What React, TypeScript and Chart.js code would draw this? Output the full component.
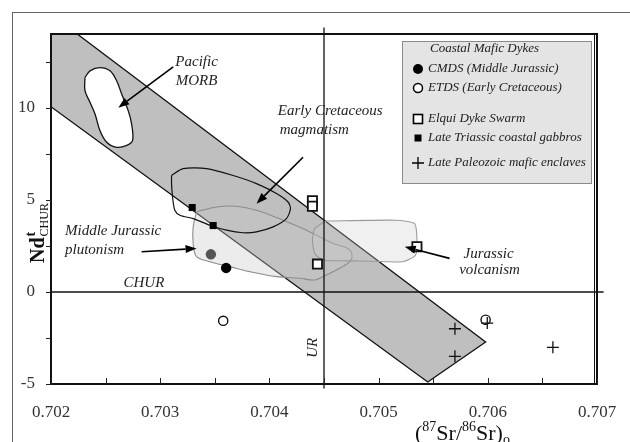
import React, { useEffect, useRef } from 'react';
import { Chart, registerables } from 'chart.js';

Chart.register(...registerables);

const X_MIN = 0.702;
const X_MAX = 0.707;
const Y_MIN = -5;
const Y_MAX = 14;
const xTickLabels = ['0.702', '0.703', '0.704', '0.705', '0.706', '0.707'];
const yTickLabels = ['-5', '0', '5', '10'];

// Polygons, [x, y] pairs in data units
const mantleArray = [[0.702, 14], [0.70224, 14], [0.70598, -2.72], [0.70545, -4.89], [0.702, 10.05], [0.702, 14]];
const pacificMorb = [
  [0.702311, 11.64], [0.702357, 12.0], [0.702448, 12.18], [0.70254, 12.0], [0.702601, 11.46],
  [0.702647, 10.74], [0.702707, 9.84], [0.702738, 9.12], [0.702747, 8.22], [0.702693, 7.95],
  [0.702601, 7.85], [0.70251, 8.12], [0.702448, 8.76], [0.702403, 9.66], [0.702357, 10.29],
  [0.702311, 10.92], [0.702311, 11.64],
];
const earlyCretaceous = [
  [0.703104, 6.32], [0.70321, 6.69], [0.703425, 6.69], [0.703668, 6.32], [0.703882, 5.88],
  [0.704065, 5.34], [0.704171, 4.88], [0.704193, 4.52], [0.704156, 3.98], [0.704034, 3.53],
  [0.703882, 3.26], [0.703759, 3.21], [0.703607, 3.35], [0.703455, 3.62], [0.703302, 3.98],
  [0.70318, 4.16], [0.703134, 4.43], [0.703113, 5.15], [0.703104, 5.88], [0.703104, 6.32],
];
const middleJurassicPlutonism = [
  [0.703333, 4.34], [0.703516, 4.61], [0.703699, 4.65], [0.703882, 4.43], [0.704125, 3.89],
  [0.704339, 3.35], [0.704583, 2.63], [0.70472, 2.36], [0.704757, 2.0], [0.704736, 1.64],
  [0.704644, 1.28], [0.704522, 0.92], [0.704415, 0.65], [0.704278, 0.74], [0.704065, 0.83],
  [0.703821, 1.1], [0.703638, 1.37], [0.703455, 1.64], [0.703333, 1.91], [0.703302, 2.63],
  [0.703302, 3.53], [0.703333, 4.34],
];
const jurassicVolcanism = [
  [0.704516, 3.85], [0.705163, 3.89], [0.70533, 3.71], [0.705351, 2.9], [0.705339, 2.0],
  [0.705223, 1.64], [0.704857, 1.68], [0.704491, 1.73], [0.704415, 2.09], [0.704394, 2.81],
  [0.704415, 3.44], [0.704516, 3.85],
];
const urLine = [[0.7045, 14.35], [0.7045, -5.25]];
const churLine = [[0.702, 0], [0.70706, 0]];

// Samples
const cmdsBlack = [[0.703604, 1.3]];
const cmdsGray = [[0.703464, 2.04]];
const etds = [[0.703577, -1.57], [0.70598, -1.51]];
const elquiDykes = [[0.704394, 4.95], [0.704394, 4.65], [0.70444, 1.51], [0.705351, 2.45]];
const lateTriassicGabbros = [[0.703293, 4.58], [0.703485, 3.6]];
const latePaleozoicEnclaves = [[0.705699, -2.0], [0.705699, -3.5], [0.705995, -1.69], [0.706596, -3.01]];

// Arrows: [tailX, tailY, headX, headY]
const arrows = [
  [0.703119, 12.22, 0.702616, 10.0],
  [0.704308, 7.31, 0.703882, 4.79],
  [0.70283, 2.18, 0.703333, 2.36],
  [0.70565, 1.82, 0.705239, 2.45],
];

// Annotations: text, x, y, align
const annotationTexts = ['Pacific', 'MORB', 'Early Cretaceous', 'magmatism', 'Middle Jurassic', 'plutonism', 'CHUR', 'Jurassic', 'volcanism'];
const annotationX = [0.703333, 0.703333, 0.704077, 0.704095, 0.702128, 0.702128, 0.702851, 0.706007, 0.706016];
const annotationY = [12.49, 11.46, 9.84, 8.81, 3.3, 2.27, 0.49, 2.05, 1.19];
const annotationAlign = ['center', 'center', 'left', 'left', 'left', 'left', 'center', 'center', 'center'];
const urLabel = { text: 'UR', x: 0.704397, y: -3.03 };

const legendTitle = 'Coastal Mafic Dykes';
const legendLabels = ['CMDS (Middle Jurassic)', 'ETDS (Early Cretaceous)', 'Elqui Dyke Swarm', 'Late Triassic coastal gabbros', 'Late Paleozoic mafic enclaves'];
const legendMarkers = ['filledCircle', 'openCircle', 'openSquare', 'filledSquare', 'cross'];

const pts = (arr: number[][]) => arr.map(([x, y]) => ({ x, y }));
const SERIF = '"Liberation Serif", "Times New Roman", serif';

function drawMarker(ctx: CanvasRenderingContext2D, kind: string, x: number, y: number) {
  ctx.save();
  ctx.strokeStyle = '#000';
  ctx.fillStyle = '#000';
  if (kind === 'filledCircle') {
    ctx.beginPath(); ctx.arc(x, y, 5, 0, Math.PI * 2); ctx.fill();
  } else if (kind === 'openCircle') {
    ctx.lineWidth = 1.5; ctx.fillStyle = '#fff';
    ctx.beginPath(); ctx.arc(x, y, 4.5, 0, Math.PI * 2); ctx.fill(); ctx.stroke();
  } else if (kind === 'openSquare') {
    ctx.lineWidth = 1.6; ctx.fillStyle = '#fff';
    ctx.fillRect(x - 4.5, y - 4.5, 9, 9); ctx.strokeRect(x - 4.5, y - 4.5, 9, 9);
  } else if (kind === 'filledSquare') {
    ctx.fillRect(x - 3.5, y - 3.5, 7, 7);
  } else if (kind === 'cross') {
    ctx.lineWidth = 1.3;
    ctx.beginPath(); ctx.moveTo(x - 6, y); ctx.lineTo(x + 6, y); ctx.moveTo(x, y - 6); ctx.lineTo(x, y + 6); ctx.stroke();
  }
  ctx.restore();
}

function drawRich(ctx: CanvasRenderingContext2D, parts: { t: string; f: string; dy: number }[], x: number, y: number) {
  let cx = x;
  for (const p of parts) {
    ctx.font = p.f;
    ctx.fillText(p.t, cx, y + p.dy);
    cx += ctx.measureText(p.t).width;
  }
}

const overlayPlugin = {
  id: 'overlay',
  afterDraw(chart: any) {
    const { ctx, chartArea: a, scales } = chart;
    const xs = scales.x;
    const ys = scales.y;
    const px = (v: number) => xs.getPixelForValue(v);
    const py = (v: number) => ys.getPixelForValue(v);
    ctx.save();

    // outer figure frame
    ctx.strokeStyle = '#666';
    ctx.lineWidth = 1;
    ctx.strokeRect(12.5, 12.5, chart.width, chart.height);

    // plot frame
    ctx.strokeStyle = '#111';
    ctx.lineWidth = 2;
    ctx.strokeRect(a.left, a.top, a.right - a.left, a.bottom - a.top);
    ctx.lineWidth = 1;
    ctx.beginPath();
    ctx.moveTo(a.right - 2.5, a.top);
    ctx.lineTo(a.right - 2.5, a.bottom);
    ctx.stroke();

    // tick marks
    ctx.lineWidth = 1;
    ctx.strokeStyle = '#222';
    ctx.beginPath();
    xs.ticks.forEach((t: any) => {
      const x = Math.round(px(t.value)) + 0.5;
      ctx.moveTo(x, a.bottom);
      ctx.lineTo(x, a.bottom - 6);
    });
    ys.ticks.forEach((t: any) => {
      const y = Math.round(py(t.value)) + 0.5;
      ctx.moveTo(a.left - 5, y);
      ctx.lineTo(a.left, y);
    });
    ctx.stroke();

    // arrows
    ctx.strokeStyle = '#000';
    ctx.fillStyle = '#000';
    ctx.lineWidth = 1.6;
    arrows.forEach(([x0, y0, x1, y1]) => {
      const sx = px(x0), sy = py(y0), ex = px(x1), ey = py(y1);
      const ang = Math.atan2(ey - sy, ex - sx);
      const L = 11, W = 4;
      const bx = ex - L * Math.cos(ang), by = ey - L * Math.sin(ang);
      ctx.beginPath();
      ctx.moveTo(sx, sy);
      ctx.lineTo(bx, by);
      ctx.stroke();
      ctx.beginPath();
      ctx.moveTo(ex, ey);
      ctx.lineTo(bx + W * Math.sin(ang), by - W * Math.cos(ang));
      ctx.lineTo(bx - W * Math.sin(ang), by + W * Math.cos(ang));
      ctx.closePath();
      ctx.fill();
    });

    // annotations
    ctx.fillStyle = '#222';
    ctx.font = `italic 15px ${SERIF}`;
    ctx.textBaseline = 'middle';
    annotationTexts.forEach((t, i) => {
      ctx.textAlign = annotationAlign[i] as CanvasTextAlign;
      ctx.fillText(t, px(annotationX[i]), py(annotationY[i]));
    });
    ctx.save();
    ctx.translate(px(urLabel.x), py(urLabel.y));
    ctx.rotate(-Math.PI / 2);
    ctx.textAlign = 'center';
    ctx.fillText(urLabel.text, 0, 0);
    ctx.restore();

    // legend
    const lx = a.right - 195, ly = a.top + 7, lw = 189, lh = 142;
    ctx.fillStyle = '#e4e4e4';
    ctx.fillRect(lx, ly, lw, lh);
    ctx.strokeStyle = '#8a8a8a';
    ctx.lineWidth = 1;
    ctx.strokeRect(lx + 0.5, ly + 0.5, lw, lh);
    ctx.fillStyle = '#222';
    ctx.textAlign = 'left';
    ctx.font = `italic 13px ${SERIF}`;
    ctx.fillText(legendTitle, lx + 28, ly + 8);
    const rowY = [28, 47, 78, 97, 122];
    legendLabels.forEach((lab, i) => {
      drawMarker(ctx, legendMarkers[i], lx + 16, ly + rowY[i]);
      ctx.fillStyle = '#222';
      ctx.font = `italic 13px ${SERIF}`;
      ctx.fillText(lab, lx + 26, ly + rowY[i]);
    });

    // axis titles
    ctx.fillStyle = '#111';
    ctx.textBaseline = 'alphabetic';
    ctx.textAlign = 'left';
    drawRich(ctx, [
      { t: '(', f: `22px ${SERIF}`, dy: 0 },
      { t: '87', f: `14px ${SERIF}`, dy: -9 },
      { t: 'Sr/', f: `22px ${SERIF}`, dy: 0 },
      { t: '86', f: `14px ${SERIF}`, dy: -9 },
      { t: 'Sr)', f: `22px ${SERIF}`, dy: 0 },
      { t: 'o', f: `14px ${SERIF}`, dy: 4 },
    ], 415, 440);

    ctx.save();
    ctx.translate(44, 263);
    ctx.rotate(-Math.PI / 2);
    ctx.font = `bold 20px ${SERIF}`;
    ctx.fillText('Nd', 0, 0);
    const w = ctx.measureText('Nd').width;
    ctx.font = `bold 14px ${SERIF}`;
    ctx.fillText('t', w + 1, -9);
    ctx.font = `12px ${SERIF}`;
    ctx.fillText('CHUR', w + 1, 4);
    ctx.restore();

    ctx.restore();
  },
};

export default function App() {
  const ref = useRef<HTMLCanvasElement | null>(null);
  useEffect(() => {
    if (!ref.current) return;
    const chart = new Chart(ref.current, {
      type: 'scatter',
      data: {
        datasets: [
          { data: pts(mantleArray), showLine: true, fill: 'shape', backgroundColor: '#bfbfbf', borderColor: '#111', borderWidth: 1.3, pointRadius: 0, tension: 0, order: 20 } as any,
          { data: pts(middleJurassicPlutonism), showLine: true, fill: 'shape', backgroundColor: 'rgba(200,200,200,0.35)', borderColor: '#8c8c8c', borderWidth: 1.1, pointRadius: 0, tension: 0.35, order: 18 } as any,
          { data: pts(jurassicVolcanism), showLine: true, fill: 'shape', backgroundColor: 'rgba(205,205,205,0.3)', borderColor: '#9a9a9a', borderWidth: 1.1, pointRadius: 0, tension: 0.2, order: 17 } as any,
          { data: pts(pacificMorb), showLine: true, fill: 'shape', backgroundColor: '#ffffff', borderColor: '#111', borderWidth: 1.3, pointRadius: 0, tension: 0.35, order: 16 } as any,
          { data: pts(earlyCretaceous), showLine: true, fill: false, borderColor: '#111', borderWidth: 1.2, pointRadius: 0, tension: 0.25, order: 15 } as any,
          { data: pts(urLine), showLine: true, fill: false, borderColor: '#111', borderWidth: 1.3, pointRadius: 0, clip: false, order: 14 } as any,
          { data: pts(churLine), showLine: true, fill: false, borderColor: '#111', borderWidth: 1.5, pointRadius: 0, clip: false, order: 14 } as any,
          { data: pts(lateTriassicGabbros), pointStyle: 'rect', pointRadius: 5, backgroundColor: '#000', borderColor: '#000', borderWidth: 0, order: 5 } as any,
          { data: pts(elquiDykes), pointStyle: 'rect', pointRadius: 6.5, backgroundColor: '#fff', borderColor: '#111', borderWidth: 1.8, order: 4 } as any,
          { data: pts(cmdsGray), pointStyle: 'circle', pointRadius: 5.2, backgroundColor: '#555', borderColor: '#555', borderWidth: 0, order: 3 } as any,
          { data: pts(cmdsBlack), pointStyle: 'circle', pointRadius: 5.2, backgroundColor: '#000', borderColor: '#000', borderWidth: 0, order: 3 } as any,
          { data: pts(etds), pointStyle: 'circle', pointRadius: 4.6, backgroundColor: '#fff', borderColor: '#111', borderWidth: 1.4, order: 2 } as any,
          { data: pts(latePaleozoicEnclaves), pointStyle: 'cross', pointRadius: 6, backgroundColor: '#000', borderColor: '#111', borderWidth: 1.3, order: 1 } as any,
        ],
      },
      options: {
        animation: false,
        responsive: true,
        maintainAspectRatio: false,
        layout: { padding: { left: 0, top: 34, right: 33, bottom: 0 } },
        plugins: { legend: { display: false }, tooltip: { enabled: false } },
        events: [],
        scales: {
          x: {
            type: 'linear',
            min: X_MIN,
            max: X_MAX,
            grid: { display: false },
            border: { display: false },
            afterFit: (s: any) => { s.height = 58; },
            ticks: {
              stepSize: 0.0005,
              includeBounds: false,
              maxRotation: 0,
              autoSkip: false,
              padding: 10,
              color: '#333',
              font: { family: SERIF, size: 17 },
              callback: (v: any) => {
                const s = Number(v).toFixed(4);
                const l = Number(v).toFixed(3);
                return s.endsWith('0') && xTickLabels.includes(l) ? l : '';
              },
            },
          },
          y: {
            type: 'linear',
            min: Y_MIN,
            max: Y_MAX,
            grid: { display: false },
            border: { display: false },
            afterFit: (s: any) => { s.width = 51; },
            ticks: {
              stepSize: 2.5,
              includeBounds: false,
              autoSkip: false,
              padding: 8,
              color: '#333',
              font: { family: SERIF, size: 17 },
              callback: (v: any) => (yTickLabels.includes(String(v)) ? String(v) : ''),
            },
          },
        },
      } as any,
      plugins: [overlayPlugin],
    });
    return () => chart.destroy();
  }, []);
  return (
    <div style={{ position: 'fixed', left: 0, top: 0, width: 630, height: 442, background: '#fff' }}>
      <canvas ref={ref} />
    </div>
  );
}
